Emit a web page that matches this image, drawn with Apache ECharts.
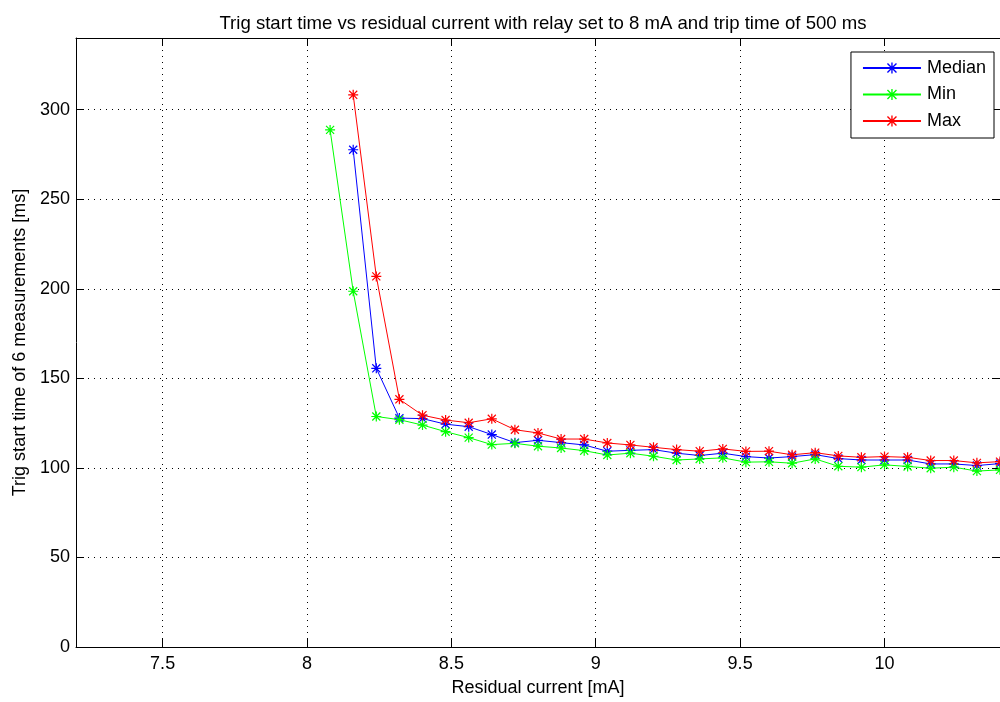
<!DOCTYPE html>
<html>
<head>
<meta charset="utf-8">
<script src="https://cdn.jsdelivr.net/npm/echarts@6/dist/echarts.min.js"></script>
<style>
  html, body { margin: 0; padding: 0; background: #fff; }
  #chart { width: 1000px; height: 702px; }
</style>
</head>
<body>
<div id="chart"></div>
<script>
// ---- Data ----
const minX = [8.08, 8.16, 8.24, 8.32, 8.40, 8.48, 8.56, 8.64, 8.72, 8.80, 8.88, 8.96, 9.04, 9.12, 9.20, 9.28, 9.36, 9.44, 9.52, 9.60, 9.68, 9.76, 9.84, 9.92, 10.00, 10.08, 10.16, 10.24, 10.32, 10.40];
const minValues = [288.7, 198.6, 128.7, 126.9, 123.9, 120.2, 116.9, 113.0, 113.7, 112.1, 111.1, 109.6, 107.2, 108.2, 106.5, 104.4, 105.0, 105.6, 103.2, 103.4, 102.6, 105.0, 100.9, 100.4, 101.7, 100.8, 99.8, 100.4, 98.2, 98.9];

const medMaxX = [8.16, 8.24, 8.32, 8.40, 8.48, 8.56, 8.64, 8.72, 8.80, 8.88, 8.96, 9.04, 9.12, 9.20, 9.28, 9.36, 9.44, 9.52, 9.60, 9.68, 9.76, 9.84, 9.92, 10.00, 10.08, 10.16, 10.24, 10.32, 10.40];
const medianValues = [277.6, 155.6, 127.8, 127.5, 124.4, 123.0, 118.6, 114.1, 115.4, 114.1, 112.8, 109.3, 109.8, 110.2, 108.2, 106.9, 108.2, 106.3, 105.5, 106.3, 107.4, 105.2, 104.4, 104.4, 104.4, 102.2, 102.2, 101.3, 102.4];
const maxValues = [308.3, 206.9, 138.3, 129.4, 126.7, 125.2, 127.4, 121.3, 119.5, 116.1, 116.1, 113.9, 112.8, 111.5, 110.2, 109.3, 110.6, 109.2, 109.3, 107.3, 108.5, 106.7, 105.9, 106.3, 105.9, 104.1, 104.1, 102.8, 103.5];

const xTicks = [7.5, 8, 8.5, 9, 9.5, 10];
const yTicks = [0, 50, 100, 150, 200, 250, 300];

const titleText = 'Trig start time vs residual current with relay set to 8 mA and trip time of 500 ms';
const xLabel = 'Residual current [mA]';
const yLabel = 'Trig start time of 6 measurements [ms]';

// ---- Chart ----
const FONT = 'Liberation Sans';
const FS = 18;
const asterisk = 'path://M8.8 0H11.2V20H8.8Z M0 8.8H20V11.2H0Z M2.8 1.1L18.9 17.2L17.2 18.9L1.1 2.8Z M17.2 1.1L18.9 2.8L2.8 18.9L1.1 17.2Z';

function pairs(xs, ys) { return xs.map((x, i) => [x, ys[i]]); }

function mkSeries(name, color, xs, ys) {
  return {
    name: name,
    type: 'line',
    data: pairs(xs, ys),
    symbol: asterisk,
    symbolSize: 10,
    showAllSymbol: true,
    lineStyle: { color: color, width: 1 },
    itemStyle: { color: color },
    emphasis: { disabled: true },
    animation: false,
    clip: true,
    z: 3
  };
}

const chart = echarts.init(document.getElementById('chart'), null, { renderer: 'canvas' });
const gridLine = { show: true, lineStyle: { color: '#000', width: 1, type: [1, 5] } };
function ticks(vals) {
  return { show: true, inside: true, length: 8, customValues: vals, lineStyle: { color: '#000', width: 1 } };
}
const axisLine = { show: true, onZero: false, lineStyle: { color: '#000', width: 1 } };

chart.setOption({
  backgroundColor: '#fff',
  animation: false,
  textStyle: { fontFamily: FONT },
  title: {
    text: titleText,
    left: 538,
    textAlign: 'center',
    top: 9,
    textStyle: { fontFamily: FONT, fontSize: 18.6, fontWeight: 'normal', color: '#000' }
  },
  legend: {
    data: ['Median', 'Min', 'Max'],
    orient: 'vertical',
    right: 6,
    top: 52,
    backgroundColor: '#fff',
    borderColor: '#000',
    borderWidth: 1,
    borderRadius: 0,
    padding: [7, 8, 8, 11],
    itemWidth: 58,
    itemHeight: 14,
    itemGap: 8.5,
    selectedMode: false,
    textStyle: { fontFamily: FONT, fontSize: FS, color: '#000', padding: [0, 0, 0, 1] }
  },
  grid: { left: 76, right: -4, top: 38, bottom: 51, containLabel: false },
  xAxis: [
    {
      type: 'value', min: 7.2, max: 10.4,
      position: 'bottom',
      axisLine: axisLine, axisTick: ticks(xTicks),
      axisLabel: {
        color: '#000', fontFamily: FONT, fontSize: FS, margin: 8,
        customValues: xTicks,
        formatter: v => String(v)
      },
      splitLine: gridLine,
      name: xLabel, nameLocation: 'middle', nameGap: 32,
      nameTextStyle: { color: '#000', fontFamily: FONT, fontSize: FS }
    },
    {
      type: 'value', min: 7.2, max: 10.4,
      position: 'top',
      axisLine: axisLine, axisTick: ticks(xTicks),
      axisLabel: { show: false, customValues: xTicks },
      splitLine: { show: false }
    }
  ],
  yAxis: [
    {
      type: 'value', min: 0, max: 340, interval: 50,
      position: 'left',
      axisLine: axisLine, axisTick: ticks(yTicks),
      axisLabel: { color: '#000', fontFamily: FONT, fontSize: FS, margin: 6, customValues: yTicks },
      splitLine: gridLine,
      name: yLabel, nameLocation: 'middle', nameGap: 46, nameRotate: 90,
      nameTextStyle: { color: '#000', fontFamily: FONT, fontSize: FS }
    },
    {
      type: 'value', min: 0, max: 340, interval: 50,
      position: 'right',
      axisLine: axisLine, axisTick: ticks(yTicks),
      axisLabel: { show: false },
      splitLine: { show: false }
    }
  ],
  series: [
    mkSeries('Median', '#0000ff', medMaxX, medianValues),
    mkSeries('Min', '#00ff00', minX, minValues),
    mkSeries('Max', '#ff0000', medMaxX, maxValues)
  ]
});
</script>
</body>
</html>
